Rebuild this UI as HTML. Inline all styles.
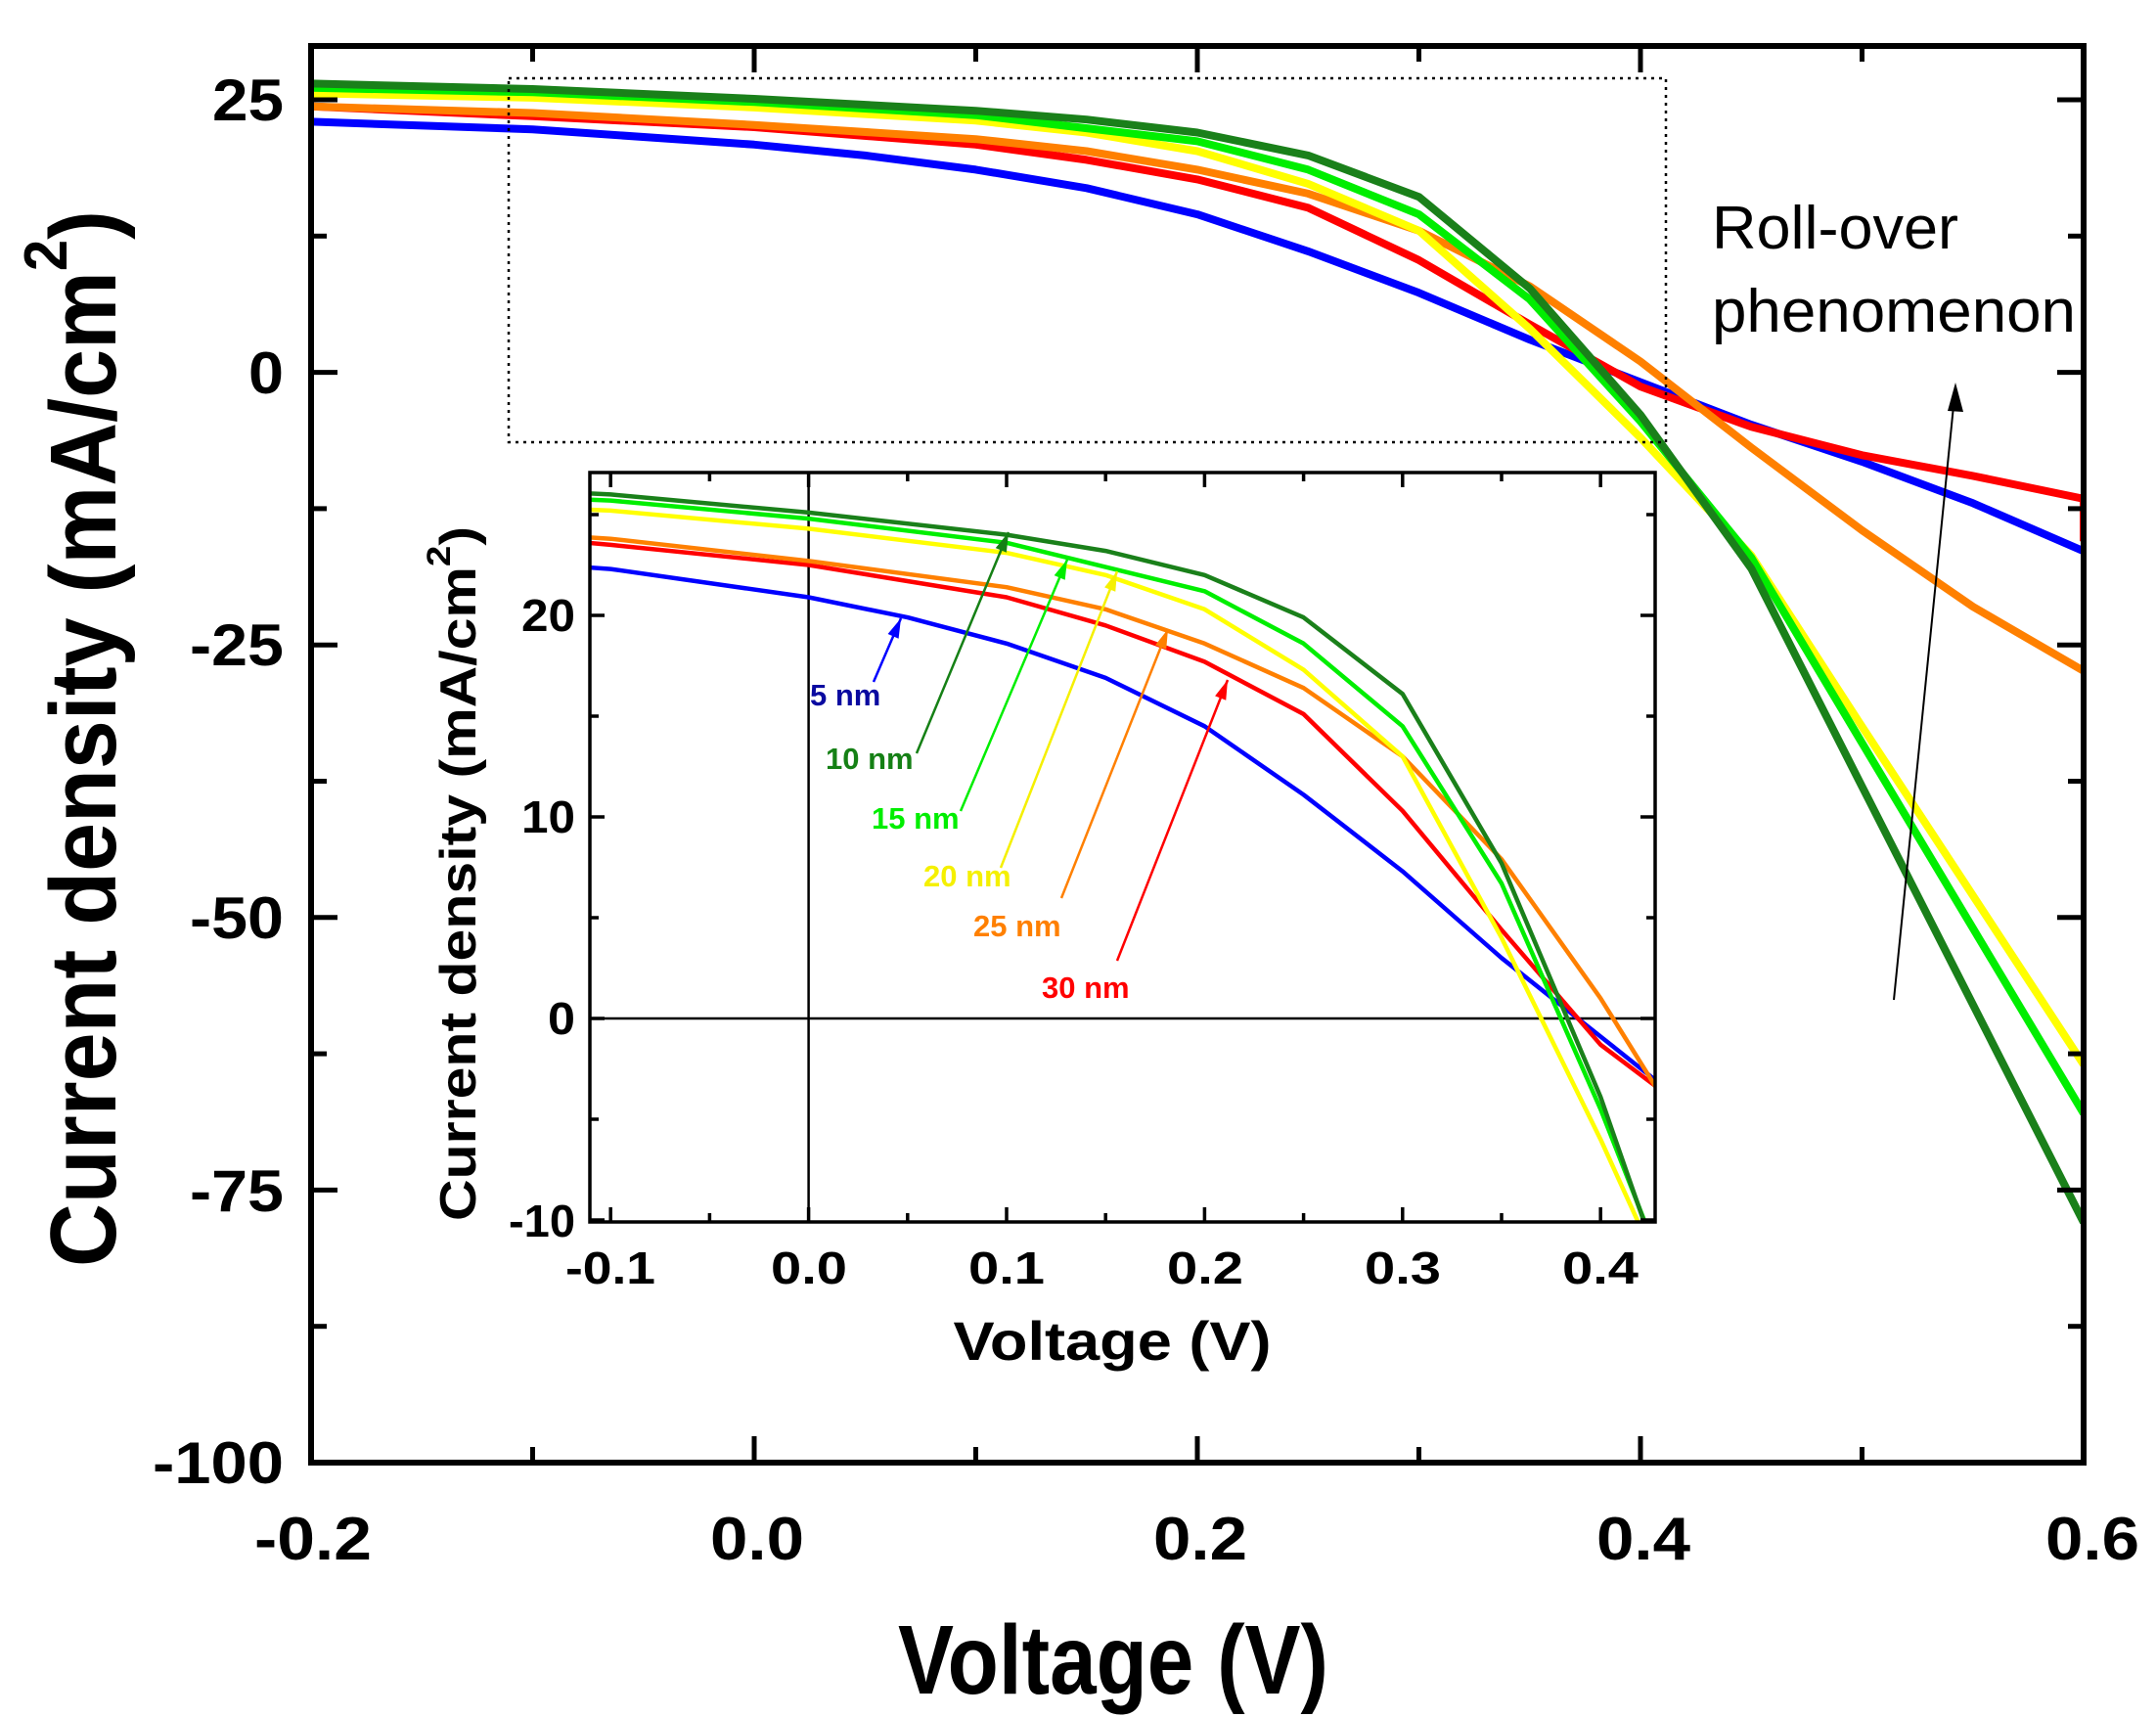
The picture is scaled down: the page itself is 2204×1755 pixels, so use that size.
<!DOCTYPE html>
<html><head><meta charset="utf-8"><style>
html,body{margin:0;padding:0;background:#fff;width:2204px;height:1755px;overflow:hidden}
svg{display:block;position:absolute;left:0;top:0}
text{font-family:"Liberation Sans",sans-serif}
</style></head><body>
<svg id="s" width="2204" height="1755" viewBox="0 0 2204 1755" xmlns="http://www.w3.org/2000/svg">
<defs>
<clipPath id="cm"><rect x="318" y="47" width="1812" height="1448"/></clipPath>
<clipPath id="ci"><rect x="603" y="483" width="1089" height="766"/></clipPath>
</defs>
<g id="main" clip-path="url(#cm)"></g>
<rect x="318" y="47" width="1812" height="1448" fill="none" stroke="#000" stroke-width="6"/>
<g id="mt" stroke="#000" stroke-width="5"></g>
<rect x="520" y="80" width="1183" height="372" fill="none" stroke="#000" stroke-width="2.5" stroke-dasharray="3,5"/>
<g font-weight="bold" font-size="60" text-anchor="end">
<text x="290" y="123" textLength="73" lengthAdjust="spacingAndGlyphs">25</text>
<text x="290" y="402" textLength="36" lengthAdjust="spacingAndGlyphs">0</text>
<text x="290" y="680" textLength="96" lengthAdjust="spacingAndGlyphs">-25</text>
<text x="290" y="959" textLength="96" lengthAdjust="spacingAndGlyphs">-50</text>
<text x="290" y="1238" textLength="96" lengthAdjust="spacingAndGlyphs">-75</text>
<text x="290" y="1516" textLength="134" lengthAdjust="spacingAndGlyphs">-100</text>
</g>
<g font-weight="bold" font-size="62" text-anchor="middle">
<text x="320" y="1594" textLength="120" lengthAdjust="spacingAndGlyphs">-0.2</text>
<text x="774" y="1594" textLength="96" lengthAdjust="spacingAndGlyphs">0.0</text>
<text x="1227" y="1594" textLength="96" lengthAdjust="spacingAndGlyphs">0.2</text>
<text x="1680" y="1594" textLength="96" lengthAdjust="spacingAndGlyphs">0.4</text>
<text x="2139" y="1594" textLength="96" lengthAdjust="spacingAndGlyphs">0.6</text>
</g>
<text x="1138" y="1731" font-weight="bold" font-size="100" text-anchor="middle" textLength="440" lengthAdjust="spacingAndGlyphs">Voltage (V)</text>
<text transform="translate(118,755) rotate(-90)" font-weight="bold" font-size="96" text-anchor="middle" textLength="1080" lengthAdjust="spacingAndGlyphs">Current density (mA/cm<tspan dy="-50" font-size="62">2</tspan><tspan dy="50">)</tspan></text>
<text x="1750" y="254" font-size="62" textLength="252" lengthAdjust="spacingAndGlyphs">Roll-over</text>
<text x="1750" y="339" font-size="62" textLength="372" lengthAdjust="spacingAndGlyphs">phenomenon</text>
<line x1="1936" y1="1022" x2="1999" y2="395" stroke="#000" stroke-width="2"/>
<path d="M1999,391 L1991,420 L2007,421 z" fill="#000"/>
<rect x="603" y="483" width="1089" height="766" fill="#fff"/>
<line x1="826.6" y1="483" x2="826.6" y2="1249" stroke="#000" stroke-width="2.5"/>
<line x1="603" y1="1041" x2="1692" y2="1041" stroke="#000" stroke-width="2.5"/>
<g id="ins" clip-path="url(#ci)"></g>
<rect x="603" y="483" width="1089" height="766" fill="none" stroke="#000" stroke-width="3.5"/>
<g id="it" stroke="#000" stroke-width="3.5"></g>
<g font-weight="bold" font-size="46" text-anchor="end">
<text x="588" y="645" textLength="55" lengthAdjust="spacingAndGlyphs">20</text>
<text x="588" y="851" textLength="55" lengthAdjust="spacingAndGlyphs">10</text>
<text x="588" y="1057" textLength="28" lengthAdjust="spacingAndGlyphs">0</text>
<text x="588" y="1264" textLength="68" lengthAdjust="spacingAndGlyphs">-10</text>
</g>
<g font-weight="bold" font-size="46" text-anchor="middle">
<text x="624" y="1312" textLength="92" lengthAdjust="spacingAndGlyphs">-0.1</text>
<text x="827" y="1312" textLength="78" lengthAdjust="spacingAndGlyphs">0.0</text>
<text x="1029" y="1312" textLength="78" lengthAdjust="spacingAndGlyphs">0.1</text>
<text x="1232" y="1312" textLength="78" lengthAdjust="spacingAndGlyphs">0.2</text>
<text x="1434" y="1312" textLength="78" lengthAdjust="spacingAndGlyphs">0.3</text>
<text x="1636" y="1312" textLength="78" lengthAdjust="spacingAndGlyphs">0.4</text>
</g>
<text x="1137" y="1390" font-weight="bold" font-size="56" text-anchor="middle" textLength="325" lengthAdjust="spacingAndGlyphs">Voltage (V)</text>
<text transform="translate(486,893) rotate(-90)" font-weight="bold" font-size="52" text-anchor="middle" textLength="710" lengthAdjust="spacingAndGlyphs">Current density (mA/cm<tspan dy="-26" font-size="34">2</tspan><tspan dy="26">)</tspan></text>
<g font-weight="bold" font-size="31">
<text x="828" y="721" fill="#0a0aa0">5 nm</text>
<text x="844" y="786" fill="#158015">10 nm</text>
<text x="891" y="847" fill="#00ee00">15 nm</text>
<text x="944" y="906" fill="#f5f000">20 nm</text>
<text x="995" y="957" fill="#ff8000">25 nm</text>
<text x="1065" y="1020" fill="#ff0000">30 nm</text>
</g>
<g id="arr"></g>
</svg>
<script>
var NS="http://www.w3.org/2000/svg";
var D={
dg:[[-0.2,26.5],[-0.1,26.0],[0,25.1],[0.1,24.0],[0.15,23.2],[0.2,22.0],[0.25,19.9],[0.3,16.1],[0.35,7.7],[0.4,-3.9],[0.45,-18],[0.5,-38],[0.55,-58],[0.6,-78]],
g:[[-0.2,26.1],[-0.1,25.7],[0,24.8],[0.1,23.6],[0.15,22.4],[0.2,21.2],[0.25,18.6],[0.3,14.5],[0.35,6.7],[0.4,-4.5],[0.45,-17],[0.5,-34],[0.55,-51],[0.6,-68]],
y:[[-0.2,25.6],[-0.1,25.2],[0,24.3],[0.1,23.1],[0.15,22.0],[0.2,20.3],[0.25,17.3],[0.3,13.0],[0.35,4.0],[0.4,-6.0],[0.45,-16.8],[0.5,-32.5],[0.55,-48],[0.6,-63.5]],
o:[[-0.2,24.4],[-0.1,23.8],[0,22.7],[0.1,21.4],[0.15,20.3],[0.2,18.6],[0.25,16.4],[0.3,13.0],[0.35,7.9],[0.4,1.0],[0.45,-6.9],[0.5,-14.5],[0.55,-21.5],[0.6,-27.4]],
r:[[-0.2,24.4],[-0.1,23.5],[0,22.5],[0.1,20.9],[0.15,19.5],[0.2,17.7],[0.25,15.1],[0.3,10.3],[0.35,4.4],[0.4,-1.3],[0.45,-5.0],[0.5,-7.6],[0.55,-9.5],[0.6,-11.6],[0.6,-15.5]],
b:[[-0.2,23],[-0.1,22.3],[0,20.9],[0.05,19.9],[0.1,18.6],[0.15,16.9],[0.2,14.5],[0.25,11.1],[0.3,7.3],[0.35,3.0],[0.4,-0.9],[0.45,-4.8],[0.5,-8.2],[0.55,-12],[0.6,-16.4]]};
var C={dg:"#1a801a",g:"#00ee00",y:"#ffff00",o:"#ff8000",r:"#ff0000",b:"#0000ff"};
var order=["b","r","o","y","g","dg"];
function el(t,a,p){var e=document.createElementNS(NS,t);for(var k in a)e.setAttribute(k,a[k]);p.appendChild(e);return e;}
var M=document.getElementById("main"),I=document.getElementById("ins");
order.forEach(function(k){
 var pm=D[k].map(function(p){return (318+(p[0]+0.2)*2265).toFixed(1)+","+(380.6-p[1]*11.14).toFixed(1)}).join(" ");
 el("polyline",{points:pm,fill:"none",stroke:C[k],"stroke-width":8,"stroke-linejoin":"round"},M);
 var pi=D[k].map(function(p){return (826.6+p[0]*2024).toFixed(1)+","+(1041-p[1]*20.6).toFixed(1)}).join(" ");
 el("polyline",{points:pi,fill:"none",stroke:C[k],"stroke-width":4.5,"stroke-linejoin":"round"},I);
});
var T=document.getElementById("mt");
for(var i=0;i<=8;i++){var x=318+i*226.5,L=(i%2==0)?27:16;
 el("line",{x1:x,y1:1495,x2:x,y2:1495-L},T);el("line",{x1:x,y1:47,x2:x,y2:47+L},T);}
for(var i=0;i<=10;i++){var y=102+i*139.3,L=(i%2==0)?27:16;
 el("line",{x1:318,y1:y,x2:318+L,y2:y},T);el("line",{x1:2130,y1:y,x2:2130-L,y2:y},T);}
var IT=document.getElementById("it");
for(var n=-2;n<=8;n++){var v=n*0.05,x=826.6+v*2024,L=(n%2==0)?15:9;
 el("line",{x1:x,y1:1249,x2:x,y2:1249-L},IT);el("line",{x1:x,y1:483,x2:x,y2:483+L},IT);}
for(var j=-10;j<=25;j+=5){var y=1041-j*20.6,L=(j%10==0)?15:9;
 el("line",{x1:603,y1:y,x2:603+L,y2:y},IT);el("line",{x1:1692,y1:y,x2:1692-L,y2:y},IT);}
var A=[[893,697,921,632,"#0000ff"],[937,770,1031,544,"#158015"],[982,829,1091,572,"#00ee00"],[1023,887,1142,584,"#f5f000"],[1085,918,1194,643,"#ff8000"],[1142,982,1255,695,"#ff0000"]];
var G=document.getElementById("arr");
A.forEach(function(a){
 el("line",{x1:a[0],y1:a[1],x2:a[2],y2:a[3],stroke:a[4],"stroke-width":2.5},G);
 var dx=a[2]-a[0],dy=a[3]-a[1],l=Math.sqrt(dx*dx+dy*dy),ux=dx/l,uy=dy/l,h=20,w=6;
 var bx=a[2]-ux*h,by=a[3]-uy*h;
 el("path",{d:"M"+a[2]+","+a[3]+" L"+(bx-uy*w)+","+(by+ux*w)+" L"+(bx+uy*w)+","+(by-ux*w)+" z",fill:a[4]},G);
});
</script>
</body></html>
